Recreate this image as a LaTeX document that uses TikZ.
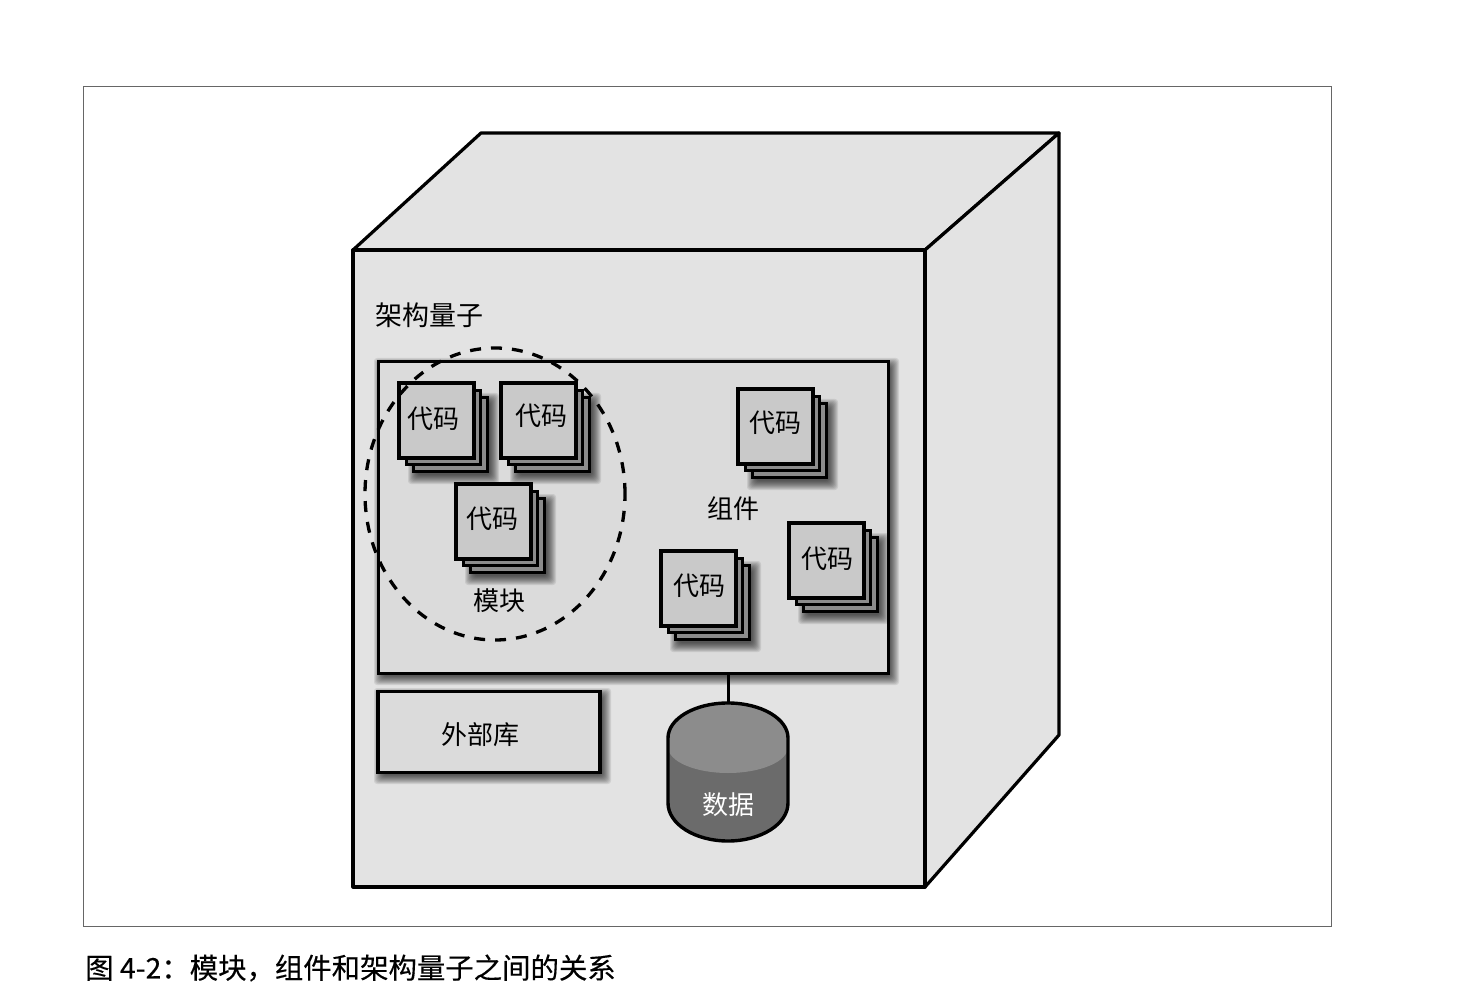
\documentclass[tikz,border=0pt]{standalone}
\usepackage{fontspec}
\usetikzlibrary{shapes.geometric}
\setmainfont{Noto Sans CJK SC}
\newfontfamily\capfont[FakeBold=0.3]{Noto Sans CJK SC}
\newcommand{\fsz}[1]{\fontsize{#1}{#1}\selectfont}
\newcommand{\softshade}[4]{%
  \foreach \g in {7,6,5,4,3,2,1,0,-1,-2}{%
    \fill[black,opacity=.085,rounded corners=3pt]
      ({#1+3-\g},{#2+4-\g}) rectangle ({#3+3+\g},{#4+4+\g});
  }}
\newcommand{\codestack}[5]{% name, x, y, label x, label y
  \softshade{#2+14}{#3+14}{#2+91}{#3+91}
  \node[backcard] (#1c) at ({#2+52.5},{#3+52.5}) {};
  \node[backcard] (#1b) at ({#2+45.5},{#3+45.5}) {};
  \node[frontcard] (#1a) at ({#2+38.5},{#3+38.5}) {};
  \node[lbl] (#1t) at (#4,#5) {代码};
}
\tikzset{
  panel/.style={draw=black,line width=3.2pt,line join=round,fill=#1},
  backcard/.style={draw=black,line width=3.4pt,fill=black!45,minimum width=74pt,minimum height=74pt,inner sep=0pt,outer sep=0pt},
  frontcard/.style={draw=black,line width=3.4pt,fill=black!21,minimum width=75pt,minimum height=75pt,inner sep=0pt,outer sep=0pt},
  lbl/.style={inner sep=0pt,font=\fsz{26}},
  boxnode/.style={draw=black,line width=3.2pt,fill=black!14,inner sep=0pt,outer sep=0pt},
}
\begin{document}
\begin{tikzpicture}[x=1pt,y=-1pt]
\useasboundingbox (0,0) rectangle (1468,1008);
\fill[white] (0,0) rectangle (1468,1008);
\draw[black!60,line width=1pt] (83,87) rectangle (1331,926);
% cube
\path[panel=black!11] (353,250) -- (481,133) -- (1059,133) -- (925,250) -- cycle;
\path[panel=black!11] (925,250) -- (1059,133) -- (1059,735) -- (925,887) -- cycle;
\path[panel=black!11] (353,250) rectangle (925,887);
\node[lbl,font=\fsz{27}] (quantum) at (429,315) {架构量子};
% component
\softshade{378}{361}{889}{674}
\node[boxnode,minimum width=510pt,minimum height=312pt] (comp) at (633.5,517.5) {};
% external library
\softshade{378}{691}{601}{773}
\node[boxnode,minimum width=222pt,minimum height=81pt] (extlib) at (489,732) {};
\node[lbl] (extlabel) at (480,735) {外部库};
% code stacks
\codestack{s1}{398}{382}{433}{419}
\codestack{s2}{500}{382}{541}{416}
\codestack{s3}{455}{483}{492}{519}
\codestack{s4}{737}{388}{775}{423}
\codestack{s5}{660}{550}{699}{586}
\codestack{s6}{788}{522}{827}{559}
\node[lbl] (modlabel) at (499,601) {模块};
\node[lbl] (complabel) at (733,509) {组件};
% module ring
\node[draw=black,line width=3.3pt,dash pattern=on 11pt off 10pt,ellipse,minimum width=260pt,minimum height=292pt,inner sep=0pt] at (495,494) (ring) {};
% database
\coordinate (cyltop) at (728,703);
\draw[black,line width=3pt] (comp.south -| cyltop) -- (cyltop);
\fill[black!58] (668,738) arc[start angle=180,end angle=0,x radius=60pt,y radius=35pt] -- (788,803)
   arc[start angle=0,end angle=-180,x radius=60pt,y radius=38pt] -- cycle;
\fill[black!45] (668,738) arc[start angle=180,end angle=0,x radius=60pt,y radius=35pt] -- (788,747)
   arc[start angle=0,end angle=-180,x radius=60pt,y radius=26pt] -- cycle;
\draw[black,line width=3.4pt] (668,738) arc[start angle=180,end angle=0,x radius=60pt,y radius=35pt] -- (788,803)
   arc[start angle=0,end angle=-180,x radius=60pt,y radius=38pt] -- cycle;
\node[lbl,text=white] (data) at (728,805) {数据};
% caption
\node[inner sep=0pt,anchor=west,font=\capfont\fsz{28.4}] (caption) at (85,968) {图 4-2：模块，组件和架构量子之间的关系};
\end{tikzpicture}
\end{document}
